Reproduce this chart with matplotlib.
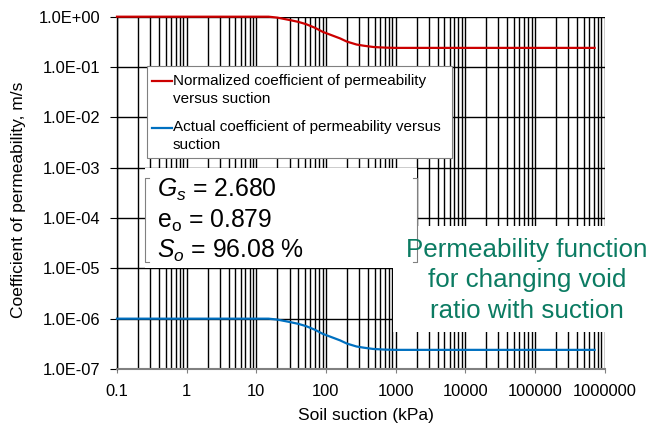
import numpy as np
import matplotlib.pyplot as plt
from matplotlib.patches import Rectangle
from matplotlib.lines import Line2D
from matplotlib.ticker import FixedLocator, FixedFormatter, LogLocator, NullLocator

plt.rcParams['font.family'] = ['Liberation Sans', 'DejaVu Sans']
plt.rcParams['mathtext.fontset'] = 'custom'
plt.rcParams['mathtext.rm'] = 'Liberation Sans'
plt.rcParams['mathtext.it'] = 'Liberation Sans:italic'

# suction (kPa) and permeability values along the curves
suction = [0.1, 1, 10, 15, 20, 30, 40, 52, 70, 90, 120, 160, 200, 275, 350,
           480, 700, 1000, 10000, 100000, 720000]
k_norm = [1.0, 1.0, 1.0, 1.0, 0.96, 0.86, 0.79, 0.71, 0.60, 0.50, 0.43, 0.37,
          0.32, 0.28, 0.265, 0.25, 0.243, 0.24, 0.24, 0.24, 0.24]
k_actual = [1.0e-6, 1.0e-6, 1.0e-6, 1.0e-6, 9.6e-7, 8.6e-7, 7.9e-7, 7.1e-7,
            6.0e-7, 5.0e-7, 4.3e-7, 3.7e-7, 3.2e-7, 2.8e-7, 2.65e-7, 2.5e-7,
            2.43e-7, 2.4e-7, 2.4e-7, 2.4e-7, 2.4e-7]

x_ticks = [0.1, 1, 10, 100, 1000, 10000, 100000, 1000000]
x_tick_labels = ['0.1', '1', '10', '100', '1000', '10000', '100000', '1000000']
y_ticks = [1e-7, 1e-6, 1e-5, 1e-4, 1e-3, 1e-2, 1e-1, 1e0]
y_tick_labels = ['1.0E-07', '1.0E-06', '1.0E-05', '1.0E-04', '1.0E-03',
                 '1.0E-02', '1.0E-01', '1.0E+00']

legend_labels = ['Normalized coefficient of permeability\nversus suction',
                 'Actual coefficient of permeability versus\nsuction']
soil_props = [r'$G_s$ = 2.680', r'e$_\mathrm{o}$ = 0.879', r'$S_o$ = 96.08 %']
note_lines = ['Permeability function', 'for changing void', 'ratio with suction']

RED = '#CC0000'
BLUE = '#0070C0'
GREEN = '#0B7B62'
GREY = '#808080'

W, H = 668, 434


def fx(px):
    return px / W


def fy(py):
    return 1 - py / H


fig = plt.figure(figsize=(W / 100, H / 100), dpi=100)
ax = fig.add_axes([fx(117), fy(369), (604.5 - 117) / W, (369 - 16.7) / H])

ax.plot(suction, k_norm, color=RED, lw=1.6, zorder=4, clip_on=False)
ax.plot(suction, k_actual, color=BLUE, lw=1.6, zorder=4, clip_on=False)

ax.set_xscale('log')
ax.set_yscale('log')
ax.set_xlim(0.1, 1e6)
ax.set_ylim(1e-7, 1)

ax.xaxis.set_major_locator(FixedLocator(x_ticks))
ax.xaxis.set_major_formatter(FixedFormatter(x_tick_labels))
ax.xaxis.set_minor_locator(LogLocator(base=10, subs=np.arange(2, 10)))
ax.yaxis.set_major_locator(FixedLocator(y_ticks))
ax.yaxis.set_major_formatter(FixedFormatter(y_tick_labels))
ax.yaxis.set_minor_locator(NullLocator())

ax.set_axisbelow(True)
ax.grid(which='both', axis='x', color='black', lw=1.0)
ax.grid(which='major', axis='y', color='black', lw=1.0)

ax.tick_params(axis='y', which='major', direction='out', length=5, width=0.8,
               pad=7, labelsize=11.9)
ax.tick_params(axis='x', which='major', direction='out', length=3, width=0.8,
               pad=8, labelsize=11.9, color=GREY)
ax.tick_params(axis='x', which='minor', length=0)

for side in ['top', 'right']:
    ax.spines[side].set_visible(False)
ax.spines['left'].set_linewidth(1.0)
ax.spines['bottom'].set_color(GREY)
ax.spines['bottom'].set_linewidth(1.5)

ax.set_xlabel('Soil suction (kPa)', fontsize=12.5)
ax.set_ylabel('Coefficient of permeability, m/s', fontsize=12.5)
ax.xaxis.set_label_coords(0.51, -0.11)
ax.yaxis.set_label_coords(-0.187, 0.48)

# legend box
ax.add_patch(Rectangle((fx(147), fy(158)), (452 - 147) / W, (158 - 66) / H,
                       transform=fig.transFigure, fc='white', ec=GREY, lw=0.8,
                       zorder=3, clip_on=False))
for color, label, y_line, y_mid in [(RED, legend_labels[0], 80.7, 90),
                                    (BLUE, legend_labels[1], 127.7, 136)]:
    ax.add_line(Line2D([fx(152), fx(172)], [fy(y_line), fy(y_line)],
                       transform=fig.transFigure, color=color, lw=1.6,
                       zorder=5, clip_on=False))
    ax.text(fx(173), fy(y_mid), label, transform=fig.transFigure, fontsize=11,
            va='center', ha='left', linespacing=1.3, zorder=5)

# soil properties box
ax.add_patch(Rectangle((fx(145), fy(268)), (417 - 145) / W, (268 - 168) / H,
                       transform=fig.transFigure, fc='white', ec='none',
                       zorder=3, clip_on=False))
for xs, ys in [([149, 145, 145, 149], [178, 178, 262, 262]),
               ([413, 417, 417, 413], [178, 178, 262, 262])]:
    ax.add_line(Line2D([fx(v) for v in xs], [fy(v) for v in ys],
                       transform=fig.transFigure, color=GREY, lw=0.8,
                       zorder=5, clip_on=False))
for text, base in zip(soil_props, [197, 228, 258]):
    ax.text(fx(157), fy(base), text, transform=fig.transFigure, fontsize=17.8,
            va='baseline', ha='left', zorder=5)

# note box
ax.add_patch(Rectangle((fx(393), fy(332)), (665 - 393) / W, (332 - 226) / H,
                       transform=fig.transFigure, fc='white', ec='none',
                       zorder=3, clip_on=False))
for text, base in zip(note_lines, [257, 287.5, 318]):
    ax.text(fx(527), fy(base), text, transform=fig.transFigure, fontsize=18.7,
            color=GREEN, va='baseline', ha='center', zorder=5)

fig.savefig('out.png', dpi=100)
